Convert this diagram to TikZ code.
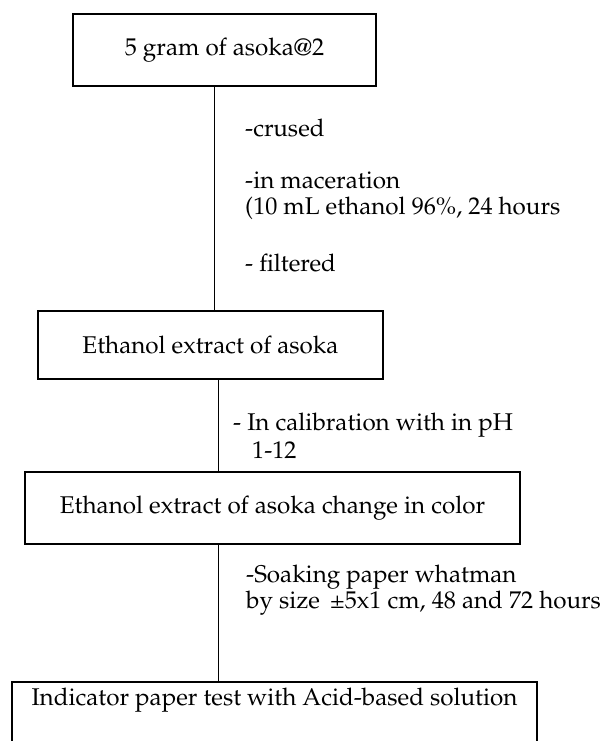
\documentclass[tikz,border=0pt]{standalone}
\usepackage[T1]{fontenc}
\usepackage{mathpazo}
\usepackage{textcomp}
\usepackage{tikz}

\begin{document}
\begin{tikzpicture}[x=1pt,y=-1pt,
  font=\fontsize{24.2}{26}\selectfont,
  stepbox/.style={draw=black, line width=1.6pt, rectangle, inner sep=0pt},
  note/.style={anchor=west, align=left, inner sep=0pt},
  link/.style={line width=0.8pt}]
\useasboundingbox (0,0) rectangle (601,741);

\node[stepbox, minimum width=303, minimum height=72] (grams) at (224.5,50) {5 gram of asoka@2};
\node[stepbox, minimum width=345, minimum height=68] (extract) at (210.5,345) {Ethanol extract of asoka};
\node[stepbox, minimum width=495, minimum height=72] (colour) at (272.5,508) {Ethanol extract of asoka change in color};
\node[stepbox, minimum width=525, anchor=north, text height=24pt, text depth=60pt, inner ysep=0pt] (paper) at (274.5,681) {Indicator paper test with Acid-based solution};

\coordinate (upper) at (214,0);
\coordinate (lower) at (218,0);

\draw[link] (grams.south -| upper) -- (extract.north -| upper);
\draw[link] (extract.south -| lower) -- (colour.north -| lower);
\draw[link] (colour.south -| lower) -- (paper.north -| lower);

\node[note] (crush) at (245,128) {-crused};
\node[note] (macer) at (245,195.5) {-in maceration\\(10 mL ethanol 96\%, 24 hours};
\node[note] (filter) at (245,263) {- filtered};

\node[note] (calib) at (233,435.5) {- In calibration with in pH\\[2pt]\hspace*{19pt}1-12};

\node[note] (soak) at (246,590.5) {-Soaking paper whatman\\by size \,\textpm5x1 cm, 48 and 72 hours};
\end{tikzpicture}
\end{document}
